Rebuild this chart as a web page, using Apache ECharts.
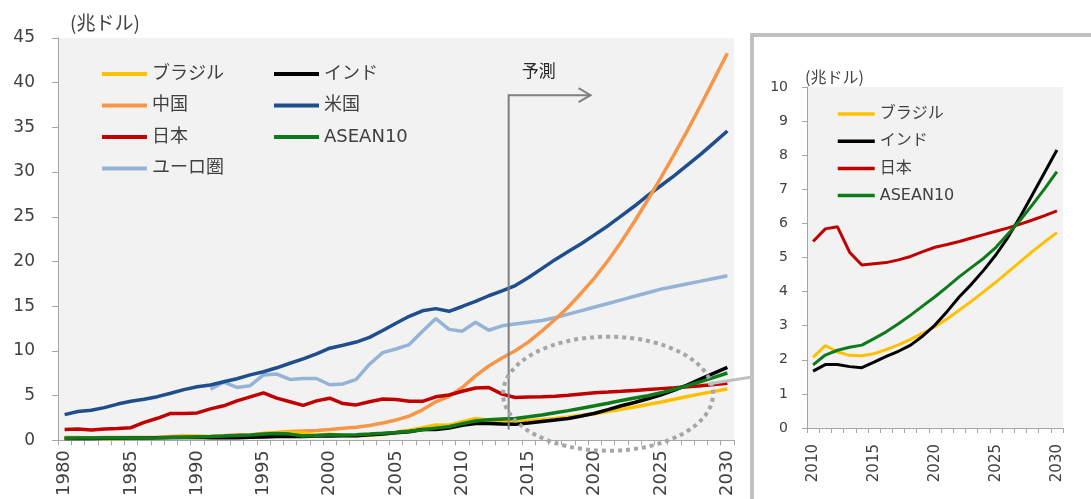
<!DOCTYPE html>
<html>
<head>
<meta charset="utf-8">
<script src="https://cdn.jsdelivr.net/npm/echarts@6/dist/echarts.min.js"></script>
<style>
html, body { margin: 0; padding: 0; background: #fff; }
#main { width: 1091px; height: 499px; }
</style>
</head>
<body>
<div id="main"></div>
<script>
// 年 (1980-2030)
var years = [];
for (var y = 1980; y <= 2030; y++) { years.push(String(y)); }

// 名目GDP (兆ドル)
var brazil = [0.24,0.26,0.28,0.20,0.20,0.22,0.26,0.29,0.33,0.43,
              0.46,0.41,0.39,0.44,0.56,0.77,0.84,0.87,0.84,0.59,
              0.66,0.56,0.51,0.56,0.67,0.89,1.11,1.40,1.70,1.67,
              2.07,2.42,2.23,2.13,2.12,2.18,2.30,2.44,2.60,2.78,
              2.97,3.20,3.46,3.72,4.00,4.28,4.58,4.88,5.18,5.46,
              5.73];
var india = [0.19,0.20,0.20,0.22,0.22,0.24,0.25,0.28,0.30,0.30,
             0.33,0.28,0.29,0.28,0.33,0.37,0.40,0.42,0.42,0.46,
             0.48,0.49,0.51,0.60,0.70,0.82,0.94,1.20,1.20,1.37,
             1.67,1.86,1.86,1.80,1.77,1.93,2.10,2.25,2.43,2.70,
             3.02,3.42,3.85,4.22,4.63,5.08,5.60,6.20,6.85,7.50,
             8.15];
var china = [0.30,0.29,0.28,0.30,0.31,0.31,0.30,0.33,0.41,0.46,
             0.39,0.41,0.49,0.62,0.56,0.73,0.86,0.96,1.03,1.09,
             1.20,1.33,1.45,1.64,1.93,2.26,2.70,3.40,4.30,4.90,
             5.90,7.20,8.30,9.20,10.0,11.0,12.2,13.5,14.9,16.5,
             18.2,20.1,22.2,24.5,26.9,29.4,32.0,34.7,37.5,40.4,
             43.3];
var usa = [2.86,3.21,3.34,3.64,4.04,4.35,4.59,4.87,5.25,5.66,
           5.98,6.17,6.54,6.88,7.31,7.66,8.10,8.61,9.09,9.66,
           10.29,10.63,10.98,11.51,12.27,13.09,13.86,14.48,14.72,14.42,
           14.96,15.52,16.16,16.70,17.30,18.20,19.20,20.20,21.10,22.00,
           23.00,24.00,25.10,26.20,27.40,28.50,29.60,30.80,32.00,33.30,
           34.60];
var japan = [1.20,1.25,1.15,1.25,1.30,1.40,2.00,2.45,3.00,3.00,
             3.05,3.50,3.85,4.40,4.85,5.30,4.70,4.30,3.90,4.40,
             4.70,4.10,3.95,4.30,4.60,4.55,4.35,4.35,4.85,5.05,
             5.47,5.84,5.90,5.15,4.78,4.82,4.85,4.93,5.03,5.17,
             5.30,5.38,5.47,5.57,5.67,5.77,5.87,5.98,6.10,6.23,
             6.37];
var asean = [0.22,0.24,0.25,0.25,0.26,0.25,0.24,0.26,0.29,0.33,
             0.37,0.41,0.46,0.52,0.59,0.68,0.74,0.68,0.48,0.53,
             0.60,0.57,0.62,0.69,0.77,0.87,1.00,1.17,1.35,1.50,
             1.85,2.14,2.28,2.37,2.43,2.62,2.82,3.06,3.31,3.58,
             3.85,4.14,4.44,4.71,4.98,5.30,5.70,6.10,6.55,7.02,
             7.52];
var euro = [null,null,null,null,null,null,null,null,null,null,
            null,5.7,6.5,5.9,6.1,7.3,7.4,6.8,6.9,6.9,
            6.2,6.3,6.8,8.5,9.8,10.2,10.7,12.2,13.6,12.4,
            12.2,13.2,12.3,12.8,13.0,13.2,13.4,13.7,14.1,14.5,
            14.9,15.3,15.7,16.1,16.5,16.9,17.2,17.5,17.8,18.1,
            18.4];

// 右の拡大図は2010年から
var insetStart = 30;
var insetYears = years.slice(insetStart);

var txt = '#404040';
var numFont = "'DejaVu Sans', 'Noto Sans CJK JP', sans-serif";
var jpFont = "'Noto Sans CJK JP', sans-serif";

function line(name, data, color, idx, w) {
    return {
        name: name,
        type: 'line',
        xAxisIndex: idx,
        yAxisIndex: idx,
        data: data,
        symbol: 'none',
        smooth: false,
        lineStyle: { color: color, width: w },
        itemStyle: { color: color },
        emphasis: { disabled: true }
    };
}

var colors = {
    'ブラジル': '#ffc000',
    'インド': '#000000',
    '中国': '#f79646',
    '米国': '#1f4e8c',
    '日本': '#c00000',
    'ASEAN10': '#0e7a1c',
    'ユーロ圏': '#95b3d7'
};

var legendText = { color: txt, fontSize: 18, fontFamily: numFont };
var noMarker = { opacity: 0 };

var chart = echarts.init(document.getElementById('main'));
var option = {
    animation: false,
    backgroundColor: '#fff',
    grid: [
        { left: 58, top: 38, right: 357, bottom: 58, show: true, backgroundColor: '#f2f2f2', borderWidth: 0 },
        { left: 807, top: 87, right: 28, bottom: 71, show: true, backgroundColor: '#f2f2f2', borderWidth: 0 }
    ],
    legend: [
        { orient: 'vertical', left: 95, top: 60, itemWidth: 45, itemHeight: 16, itemGap: 13.5,
          itemStyle: noMarker, lineStyle: { width: 4 },
          data: ['ブラジル', '中国', '日本', 'ユーロ圏'], textStyle: legendText },
        { orient: 'vertical', left: 267, top: 60, itemWidth: 45, itemHeight: 16, itemGap: 13.5,
          itemStyle: noMarker, lineStyle: { width: 4 },
          data: ['インド', '米国', 'ASEAN10'], textStyle: legendText },
        { orient: 'vertical', left: 831, top: 101, itemWidth: 37, itemHeight: 14, itemGap: 11.2,
          itemStyle: noMarker, lineStyle: { width: 3.5 },
          data: ['ブラジル', 'インド', '日本', 'ASEAN10'],
          textStyle: { color: txt, fontSize: 16, fontFamily: numFont } }
    ],
    xAxis: [
        { type: 'category', gridIndex: 0, data: years, boundaryGap: true,
          axisLine: { lineStyle: { color: '#a6a6a6', width: 1 } },
          axisTick: { show: true, interval: 0, length: 5, lineStyle: { color: '#a6a6a6' } },
          axisLabel: { interval: 4, rotate: 90, margin: 10, color: txt, fontSize: 18, fontFamily: numFont } },
        { type: 'category', gridIndex: 1, data: insetYears, boundaryGap: true,
          axisLine: { lineStyle: { color: '#a6a6a6', width: 1 } },
          axisTick: { show: true, interval: 0, length: 5, lineStyle: { color: '#a6a6a6' } },
          axisLabel: { interval: 4, rotate: 90, margin: 16, color: txt, fontSize: 15, fontFamily: numFont } }
    ],
    yAxis: [
        { type: 'value', gridIndex: 0, min: 0, max: 45, interval: 5,
          name: '(兆ドル)', nameLocation: 'end', nameGap: 15,
          nameTextStyle: { color: txt, fontSize: 19, fontFamily: jpFont, align: 'left', verticalAlign: 'middle', padding: [0, 0, 0, 12] },
          axisLine: { show: true, lineStyle: { color: '#a6a6a6' } },
          axisTick: { show: true, length: 6, lineStyle: { color: '#a6a6a6' } },
          axisLabel: { margin: 23, color: txt, fontSize: 17, fontFamily: numFont },
          splitLine: { show: false } },
        { type: 'value', gridIndex: 1, min: 0, max: 10, interval: 1,
          name: '(兆ドル)', nameLocation: 'end', nameGap: 10,
          nameTextStyle: { color: txt, fontSize: 16, fontFamily: jpFont, align: 'left', verticalAlign: 'middle', padding: [0, 0, 0, -2] },
          axisLine: { show: true, lineStyle: { color: '#a6a6a6' } },
          axisTick: { show: true, length: 5, lineStyle: { color: '#a6a6a6' } },
          axisLabel: { margin: 19, color: txt, fontSize: 14, fontFamily: numFont },
          splitLine: { show: false } }
    ],
    series: [
        line('ユーロ圏', euro, colors['ユーロ圏'], 0, 3.5),
        line('米国', usa, colors['米国'], 0, 3.5),
        line('中国', china, colors['中国'], 0, 3.5),
        line('日本', japan, colors['日本'], 0, 3.5),
        line('ブラジル', brazil, colors['ブラジル'], 0, 3.5),
        line('インド', india, colors['インド'], 0, 3.5),
        line('ASEAN10', asean, colors['ASEAN10'], 0, 3.5),
        line('日本', japan.slice(insetStart), colors['日本'], 1, 3),
        line('ブラジル', brazil.slice(insetStart), colors['ブラジル'], 1, 3),
        line('インド', india.slice(insetStart), colors['インド'], 1, 3),
        line('ASEAN10', asean.slice(insetStart), colors['ASEAN10'], 1, 3)
    ]
};
chart.setOption(option);

// 予測の矢印、楕円、拡大図の枠
var fx = (chart.convertToPixel({ xAxisIndex: 0 }, '2013') + chart.convertToPixel({ xAxisIndex: 0 }, '2014')) / 2;
var yTop = chart.convertToPixel({ yAxisIndex: 0 }, 38.6);
var yBot = chart.convertToPixel({ yAxisIndex: 0 }, 1.2);
var xArrow = chart.convertToPixel({ xAxisIndex: 0 }, '2019') + 9;
var ell = chart.convertToPixel({ gridIndex: 0 }, ['2021', 5.2]);

chart.setOption({
    graphic: [
        { type: 'rect', z: 100, shape: { x: 752, y: 35, width: 420, height: 520 },
          style: { fill: 'none', stroke: '#c0c0c0', lineWidth: 4 } },
        { type: 'polyline', z: 100, shape: { points: [[fx, yBot], [fx, yTop], [xArrow, yTop]] },
          style: { fill: 'none', stroke: '#808080', lineWidth: 2 } },
        { type: 'polyline', z: 100, shape: { points: [[xArrow - 12, yTop - 7], [xArrow, yTop], [xArrow - 12, yTop + 7]] },
          style: { fill: 'none', stroke: '#808080', lineWidth: 2 } },
        { type: 'text', z: 100, x: fx + 30, y: yTop - 25,
          style: { text: '予測', fill: '#262626', fontSize: 17, fontFamily: jpFont, align: 'center', verticalAlign: 'middle' } },
        { type: 'ellipse', z: 100, shape: { cx: ell[0], cy: ell[1], rx: 105, ry: 57 },
          style: { fill: 'none', stroke: '#a6a6a6', lineWidth: 4, lineDash: [4, 4] } },
        { type: 'line', z: 100, shape: { x1: 708, y1: 384, x2: 752, y2: 377 },
          style: { stroke: '#c0c0c0', lineWidth: 3 } }
    ]
});
</script>
</body>
</html>
